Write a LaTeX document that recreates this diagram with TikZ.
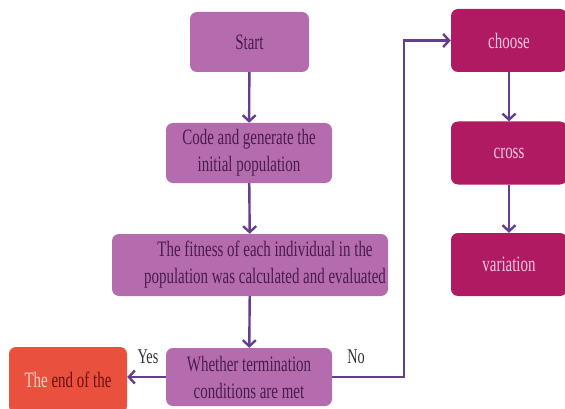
\documentclass[tikz,border=0pt]{standalone}
\usepackage{fontspec}
\setmainfont{Liberation Serif}[FakeStretch=0.68]
\usetikzlibrary{arrows.meta}

\definecolor{boxpurple}{HTML}{B46CAE}
\definecolor{txtpurple}{HTML}{4A1C4E}
\definecolor{boxmagenta}{HTML}{B01A62}
\definecolor{txtpink}{HTML}{F3C8DC}
\definecolor{boxred}{HTML}{E9503E}
\definecolor{txtred}{HTML}{6E1010}
\definecolor{txtlight}{HTML}{F8D2C8}
\definecolor{arrowpurple}{HTML}{663E90}
\definecolor{labelgray}{HTML}{333333}

\begin{document}
\begin{tikzpicture}[x=1pt,y=-1pt,
  basebox/.style={rounded corners=7pt, align=center, inner sep=0pt,
    font=\fontsize{22}{27}\selectfont},
  procbox/.style={basebox, fill=boxpurple, text=txtpurple},
  opbox/.style={basebox, fill=boxmagenta, text=txtpink,
    minimum width=116pt, minimum height=63pt},
  endbox/.style={basebox, fill=boxred},
  flow/.style={draw=arrowpurple, line width=2.4pt,
    -{Straight Barb[length=6pt,width=13pt,line width=2.4pt]}},
  branch/.style={text=labelgray, font=\fontsize{21}{24}\selectfont}
]
\fill[white] (0,0) rectangle (565,409);
\useasboundingbox (0,0) rectangle (565,409);
\clip (0,0) rectangle (565,409);

% main column
\node[procbox, minimum width=119pt, minimum height=60pt] (start) at (249.5,42) {Start};
\node[procbox, minimum width=166pt, minimum height=60pt] (code) at (249,153)
  {Code and generate the\\initial population};
\node[procbox, minimum width=276pt, minimum height=62pt] (fit) at (250,265)
  {\hspace*{30pt}The fitness of each individual in the\\
   \hspace*{30pt}population was calculated and evaluated};
\node[procbox, minimum width=166pt, minimum height=58pt] (check) at (249,377)
  {Whether termination\\conditions are met};

% terminal box
\node[endbox, minimum width=118pt, minimum height=66pt] (finish) at (68,380)
  {{\color{txtlight}The} {\color{txtred}end of the}};

% genetic operators
\node[opbox] (choose) at (509,40.5) {choose};
\node[opbox] (cross) at (509,153) {cross};
\node[opbox] (vari) at (509,264.5) {variation};

% connectors
\draw[flow] (start) -- (code);
\draw[flow] (code) -- (fit);
\draw[flow] (fit) -- (check);
\draw[flow] (check.west) -- (finish.east |- check.west);
\coordinate (turn) at (404,40.5);
\draw[flow] (check.east) -| (turn) -- (choose.west);
\draw[flow] (choose) -- (cross);
\draw[flow] (cross) -- (vari);

% branch labels
\node[branch] (yes) at (148,357) {Yes};
\node[branch] (no) at (356,357) {No};
\end{tikzpicture}
\end{document}
